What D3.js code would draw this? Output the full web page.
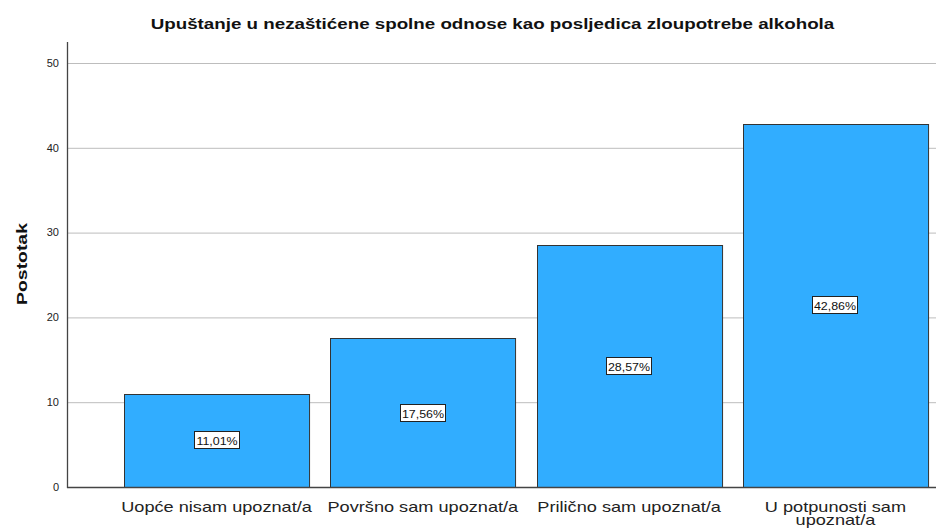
<!DOCTYPE html>
<html><head><meta charset="utf-8">
<script src="https://cdn.jsdelivr.net/npm/d3@7"></script>
<style>body{margin:0;background:#fff}svg{display:block;font-family:"Liberation Sans",Arial,sans-serif}</style>
</head><body><svg id="c" width="939" height="531"></svg>
<script>
const categories = ["Uopće nisam upoznat/a","Površno sam upoznat/a","Prilično sam upoznat/a","U potpunosti sam upoznat/a"];
const categoryLines = [["Uopće nisam upoznat/a"],["Površno sam upoznat/a"],["Prilično sam upoznat/a"],["U potpunosti sam","upoznat/a"]];
const values = [11.01,17.56,28.57,42.86];
const valueLabels = ["11,01%","17,56%","28,57%","42,86%"];
const yTicks = [0,10,20,30,40,50];
const title = "Upuštanje u nezaštićene spolne odnose kao posljedica zloupotrebe alkohola";
const yTitle = "Postotak";

const svg = d3.select("#c");
const axisX = 67, gridRight = 936, y0 = 487, y50 = 63, axisTop = 42;
const y = d3.scaleLinear().domain([0,50]).range([y0,y50]);
const x = d3.scaleBand().domain(categories).range([113.7,938.3]).paddingInner(0.103).paddingOuter(0.05);

function widen(sel, k){
  sel.each(function(){
    const w = this.getComputedTextLength();
    d3.select(this).attr("textLength", w*k).attr("lengthAdjust","spacingAndGlyphs");
  });
}

// gridlines
svg.append("g").selectAll("line").data(yTicks.filter(d=>d>0)).join("line")
  .attr("x1",axisX).attr("x2",gridRight).attr("y1",d=>y(d)+0.5).attr("y2",d=>y(d)+0.5)
  .attr("stroke","#bdbdbd").attr("stroke-width",1);

// tick labels
const tl = svg.append("g").selectAll("text").data(yTicks).join("text")
  .attr("x",axisX-8).attr("y",d=>y(d)).attr("dy","0.35em").attr("text-anchor","end")
  .attr("font-size",11).attr("fill","#222").text(d=>d);

// bars
svg.append("g").selectAll("rect").data(values).join("rect")
  .attr("x",(d,i)=>Math.round(x(categories[i]))+0.5).attr("y",d=>Math.round(y(d))+0.5)
  .attr("width",x.bandwidth()).attr("height",d=>Math.round(y0)-Math.round(y(d)))
  .attr("fill","#31adff").attr("stroke","#333").attr("stroke-width",1);

// value labels
const lg = svg.append("g").selectAll("g").data(values).join("g")
  .attr("transform",(d,i)=>`translate(${Math.round(x(categories[i])+x.bandwidth()/2)},${Math.round((y(d)+y0)/2)})`);
lg.append("rect").attr("x",-22.5).attr("y",-8.5).attr("width",45).attr("height",17)
  .attr("fill","#fff").attr("stroke","#222").attr("stroke-width",1);
const vt = lg.append("text").attr("text-anchor","middle").attr("dy","0.35em").attr("y",0.5)
  .attr("font-size",11.5).attr("fill","#111").text((d,i)=>valueLabels[i]);
widen(vt, 1.08);

// axes lines
svg.append("line").attr("x1",axisX+0.5).attr("x2",axisX+0.5).attr("y1",axisTop).attr("y2",y0+1)
  .attr("stroke","#444").attr("stroke-width",1.3);
svg.append("line").attr("x1",axisX).attr("x2",gridRight).attr("y1",y0+0.5).attr("y2",y0+0.5)
  .attr("stroke","#444").attr("stroke-width",1.3);

// category labels
const cl = svg.append("g").selectAll("text").data(categories).join("text")
  .attr("x",d=>x(d)+x.bandwidth()/2).attr("y",511.5).attr("text-anchor","middle")
  .attr("font-size",15).attr("fill","#222");
cl.each(function(d,i){
  d3.select(this).selectAll("tspan").data(categoryLines[i]).join("tspan")
    .attr("x",x(d)+x.bandwidth()/2).attr("dy",(t,j)=>j===0?0:13.5).text(t=>t);
});
widen(cl.selectAll("tspan"), 1.21);

// titles
const tt = svg.append("text").attr("x",492.5).attr("y",28.5).attr("text-anchor","middle")
  .attr("font-size",15).attr("font-weight","bold").attr("fill","#111").text(title);
widen(tt, 1.25);
const yt = svg.append("text").attr("transform",`translate(27,264) rotate(-90)`)
  .attr("text-anchor","middle").attr("font-size",15.5).attr("font-weight","bold").attr("fill","#111").text(yTitle);
widen(yt, 1.25);
</script></body></html>
